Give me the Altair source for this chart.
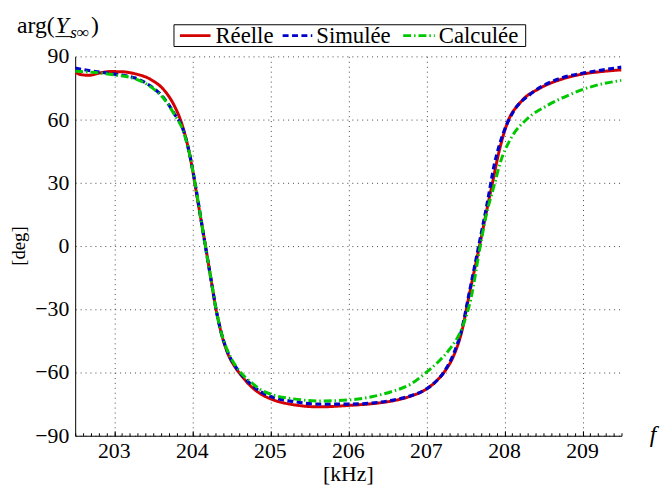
import altair as alt
import pandas as pd

# ---- data ----
series_names = ["Réelle", "Simulée", "Calculée"]

f_reelle = [202.5, 202.58, 202.68, 202.8, 202.95, 203.1, 203.27, 203.47, 203.65, 203.77,
            203.86, 203.94, 204.0, 204.07, 204.17, 204.25, 204.3, 204.36, 204.45, 204.55,
            204.62, 204.75, 204.87, 205.04, 205.3, 205.63, 206.01, 206.3, 206.56, 206.8,
            206.98, 207.1, 207.23, 207.35, 207.45, 207.55, 207.68, 207.78, 207.85, 207.93,
            208.04, 208.2, 208.46, 208.71, 209.0, 209.25, 209.5]
deg_reelle = [82.4, 81.3, 81.0, 82.0, 82.8, 82.7, 81.7, 79.0, 73.5, 66.6,
              58.7, 48.0, 37.0, 21.5, 0.0, -18.0, -29.0, -39.5, -50.5, -57.5,
              -61.0, -66.5, -70.0, -73.0, -75.3, -76.3, -75.6, -74.8, -73.5, -71.2,
              -68.3, -65.0, -59.7, -52.0, -41.0, -23.0, 0.0, 18.2, 30.6, 44.7,
              58.7, 68.0, 75.0, 78.9, 81.6, 82.8, 83.6]

f_simulee = [202.5, 202.76, 203.0, 203.27, 203.47, 203.65, 203.77, 203.88, 203.96, 204.04,
             204.15, 204.25, 204.3, 204.36, 204.45, 204.55, 204.62, 204.75, 204.87, 205.04,
             205.3, 205.63, 206.01, 206.3, 206.56, 206.8, 206.98, 207.1, 207.23, 207.35,
             207.45, 207.55, 207.67, 207.78, 207.87, 207.99, 208.12, 208.33, 208.67, 209.0,
             209.25, 209.5]
deg_simulee = [84.4, 82.8, 81.6, 79.7, 75.8, 69.6, 62.8, 55.5, 44.7, 29.0,
               4.0, -18.0, -29.0, -39.5, -50.0, -57.0, -60.5, -65.5, -69.0, -71.8,
               -73.8, -75.0, -75.0, -74.5, -73.2, -71.0, -68.3, -65.0, -59.5, -51.0,
               -40.0, -22.0, 0.0, 20.5, 38.6, 54.0, 64.1, 72.0, 79.0, 82.0,
               83.5, 84.9]

f_calculee = [202.5, 202.76, 203.0, 203.27, 203.47, 203.65, 203.77, 203.88, 203.96, 204.04,
              204.15, 204.25, 204.3, 204.36, 204.45, 204.55, 204.62, 204.75, 204.87, 205.04,
              205.3, 205.63, 206.01, 206.3, 206.56, 206.8, 206.98, 207.15, 207.3, 207.45,
              207.57, 207.69, 207.76, 207.87, 207.95, 208.08, 208.29, 208.54, 208.84, 209.13,
              209.5]
deg_calculee = [83.0, 82.3, 81.2, 79.3, 75.5, 69.3, 62.5, 55.0, 44.5, 29.0,
                4.0, -18.0, -29.0, -39.5, -49.5, -56.5, -60.0, -64.5, -68.0, -70.7,
                -72.5, -73.5, -73.0, -71.5, -69.0, -65.5, -60.5, -55.0, -48.8, -39.5,
                -25.0, 0.0, 13.5, 29.0, 40.0, 50.9, 60.3, 66.5, 71.9, 75.8,
                78.6]

x_ticks = [203, 204, 205, 206, 207, 208, 209]
x_minor = [round(202.5 + 0.1 * i, 1) for i in range(71)]
y_ticks = [-90, -60, -30, 0, 30, 60, 90]

rows = []
for name, fs, ds in [("Réelle", f_reelle, deg_reelle),
                     ("Simulée", f_simulee, deg_simulee),
                     ("Calculée", f_calculee, deg_calculee)]:
    for f, d in zip(fs, ds):
        rows.append({"f": f, "deg": d, "serie": name})
df = pd.DataFrame(rows)
xt_df = pd.DataFrame({"f": x_ticks})
yt_df = pd.DataFrame({"deg": y_ticks})
ann = pd.DataFrame({"k": [0]})  # single row for annotations

W, H = 553, 384
FONT = "Liberation Serif"
colors = ["#d40000", "#0000cc", "#00c800"]
dashes = [[1, 0], [6, 3.5], [8, 3, 1.5, 3]]
widths = [3, 3.2, 3]

xscale = alt.Scale(domain=[202.5, 209.5], nice=False, zero=False)
yscale = alt.Scale(domain=[-90, 90], nice=False, zero=False)

color_enc = alt.Color("serie:N", scale=alt.Scale(domain=series_names, range=colors), legend=None)
dash_enc = alt.StrokeDash("serie:N", scale=alt.Scale(domain=series_names, range=dashes), legend=None)

x_main_axis = alt.Axis(
    values=x_ticks, labels=False, ticks=False, domain=True, domainColor="black", domainWidth=1,
    grid=True, gridDash=[1, 4], gridColor="#444", gridWidth=1, title=None, orient="bottom")
y_main = alt.Y("deg:Q", scale=yscale, axis=alt.Axis(
    values=y_ticks, labels=False, ticks=False, domain=True, domainColor="black", domainWidth=1,
    grid=True, gridDash=[1, 4], gridColor="#444", gridWidth=1, title=None))

layers = []
for i, name in enumerate(series_names):
    xenc = alt.X("f:Q", scale=xscale, axis=x_main_axis if i == 0 else None)
    layers.append(
        alt.Chart(df).transform_filter(alt.datum.serie == name)
        .mark_line(interpolate="monotone", strokeWidth=widths[i], clip=True)
        .encode(x=xenc, y=y_main, color=color_enc, strokeDash=dash_enc, order="f:Q")
    )

# minor / major ticks pointing inward on the x axis
minor = alt.Chart(df).mark_line(opacity=0).encode(
    x=alt.X("f:Q", scale=xscale, axis=alt.Axis(
        values=x_minor, labels=False, domain=False, grid=False, ticks=True,
        tickSize=3, tickColor="black", offset=-3, title=None, orient="bottom")),
    y=y_main, detail="serie:N",
)
major = alt.Chart(df).mark_line(opacity=0).encode(
    x=alt.X("f:Q", scale=xscale, axis=alt.Axis(
        values=x_ticks, labels=False, domain=False, grid=False, ticks=True,
        tickSize=5, tickColor="black", offset=-5, title=None, orient="bottom")),
    y=y_main, detail="serie:N",
)

# tick labels placed through the scales (serif font)
x_labels = alt.Chart(xt_df).mark_text(font=FONT, fontSize=22, color="black",
                                      align="center", baseline="top").encode(
    x=alt.X("f:Q", scale=xscale, axis=None),
    y=alt.value(H + 6),
    text=alt.Text("f:Q", format="d"),
)
y_labels = alt.Chart(yt_df).mark_text(font=FONT, fontSize=22, color="black",
                                      align="right", baseline="middle").encode(
    x=alt.value(-6),
    y=y_main,
    text=alt.Text("deg:Q", format="d"),
)

def label(text, x, y, size, italic=False, align="left", baseline="alphabetic", angle=0, color="black"):
    kw = dict(text=text, fontSize=size, font=FONT, color=color,
              baseline=baseline, align=align)
    if italic:
        kw["fontStyle"] = "italic"
    if angle:
        kw["angle"] = angle
    return alt.Chart(ann).mark_text(**kw).encode(x=alt.value(x), y=alt.value(y))

t_khz = label("[kHz]", W / 2, H + 46, 22, align="center")
t_deg = label("[deg]", -57, H / 2, 19, align="center", baseline="middle", angle=270)

t_arg = label("arg(", -59, -24, 24)
t_Y = label("Y", -20, -24, 24, italic=True)
t_sub = label("s∞", -5, -19, 17, italic=True)
t_close = label(")", 16, -24, 24)
underline = alt.Chart(ann).mark_rule(color="black", strokeWidth=1).encode(
    x=alt.value(-20), x2=alt.value(-3), y=alt.value(-20))
t_f = label("f", W + 32, H + 6, 24, italic=True, align="center")

# legend box (drawn by hand so that its labels use the serif font)
leg_box = alt.Chart(ann).mark_rect(fill="white", stroke="black", strokeWidth=1).encode(
    x=alt.value(100), x2=alt.value(456), y=alt.value(-32), y2=alt.value(-10))
leg_sym_x = [(106, 137), (210, 240), (332, 364)]
leg_txt_x = [142, 244, 368]
leg_layers = [leg_box]
for i, name in enumerate(series_names):
    x0, x1 = leg_sym_x[i]
    leg_layers.append(
        alt.Chart(ann).mark_rule(color=colors[i], strokeWidth=3, strokeDash=dashes[i]).encode(
            x=alt.value(x0), x2=alt.value(x1), y=alt.value(-21)))
    leg_layers.append(label(name, leg_txt_x[i], -14, 23))

chart = alt.layer(
    *layers, minor, major, x_labels, y_labels, t_khz, t_deg,
    t_arg, t_Y, t_sub, t_close, underline, t_f, *leg_layers
).resolve_axis(
    x="independent"
).properties(
    width=W, height=H,
    autosize=alt.AutoSizeParams(type="none"),
    padding={"left": 68, "top": 46, "right": 43, "bottom": 55},
).configure_view(stroke=None)

chart.save("out.html", embed_options={"renderer": "svg", "actions": False})
